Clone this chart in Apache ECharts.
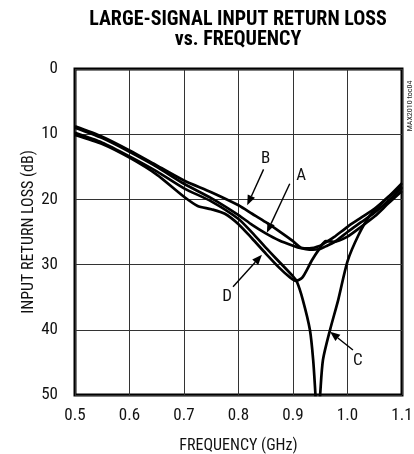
<!DOCTYPE html>
<html>
<head>
<meta charset="utf-8">
<script src="https://cdn.jsdelivr.net/npm/echarts@6/dist/echarts.min.js"></script>
<style>html,body{margin:0;padding:0;background:#fff}#c{width:414px;height:454px}</style>
</head>
<body>
<div id="c"></div>
<script>
// ---- data ----
var xTicks = [0.5, 0.6, 0.7, 0.8, 0.9, 1.0, 1.1];
var yTicks = [0, 10, 20, 30, 40, 50];
var curveA = [[0.5,9.0],[0.55,10.6],[0.6,12.7],[0.65,15.0],[0.7,17.6],[0.75,19.8],[0.8,22.4],[0.825,23.9],[0.85,25.2],[0.875,26.3],[0.9,27.1],[0.915,27.5],[0.93,27.7],[0.95,27.6],[0.96,27.2],[0.975,26.6],[1.0,25.0],[1.025,23.5],[1.05,22.0],[1.075,20.2],[1.1,18.2]];
var curveB = [[0.5,8.8],[0.55,10.4],[0.6,12.5],[0.65,14.8],[0.7,17.1],[0.75,18.9],[0.8,20.9],[0.825,22.2],[0.85,23.5],[0.875,24.9],[0.9,26.4],[0.915,27.4],[0.93,27.5],[0.95,27.1],[0.96,26.6],[0.975,25.8],[1.0,24.2],[1.025,22.8],[1.05,21.4],[1.075,19.6],[1.1,17.5]];
var curveC = [[0.5,9.8],[0.55,11.3],[0.6,13.4],[0.65,15.7],[0.7,18.3],[0.75,20.3],[0.8,23.0],[0.825,25.1],[0.85,27.4],[0.875,29.6],[0.9,31.8],[0.907,32.6],[0.918,35.4],[0.931,40],[0.937,44.6],[0.941,49.7],[0.945,56],[0.95,49.7],[0.955,44.6],[0.968,40],[0.983,35.4],[1.0,29.5],[1.02,25.5],[1.04,22.6],[1.07,20.0],[1.1,18.0]];
var curveD = [[0.5,10.1],[0.55,11.5],[0.6,13.6],[0.65,16.2],[0.7,19.6],[0.725,21.0],[0.75,21.5],[0.775,22.2],[0.8,23.8],[0.825,26.0],[0.85,28.3],[0.875,30.5],[0.895,32.0],[0.905,32.5],[0.917,32.0],[0.935,29.3],[0.95,27.4],[0.96,26.4],[0.975,26.5],[1.0,25.7],[1.025,24.2],[1.05,22.6],[1.075,20.6],[1.1,18.7]];
var seriesNames = ['A', 'B', 'C', 'D'];
// annotation: [label, labelX, labelY, arrowStartX, arrowStartY, tipX, tipY] in data units
var annotations = [
  ['B', 0.850, 13.8, 0.846, 15.4, 0.816, 20.9],
  ['A', 0.915, 16.4, 0.894, 17.6, 0.852, 25.1],
  ['D', 0.779, 35.0, 0.790, 33.4, 0.843, 28.5],
  ['C', 1.019, 44.8, 1.010, 43.1, 0.968, 40.3]
];

var FONT = 'Roboto, sans-serif';
var chart = echarts.init(document.getElementById('c'), null, {renderer: 'canvas'});
var curves = [curveA, curveB, curveC, curveD];
var series = curves.map(function (d, i) {
  return {
    name: seriesNames[i], type: 'line', data: d, showSymbol: false, symbol: 'none',
    smooth: 0.25, clip: true, animation: false,
    lineStyle: {color: '#000', width: 2.7}
  };
});
chart.setOption({
  animation: false,
  grid: {left: 75, right: 12, top: 69, bottom: 59, outerBoundsMode: 'none', containLabel: false,
    show: true, borderColor: '#000', borderWidth: 3, backgroundColor: 'transparent'},
  xAxis: {
    type: 'value', min: 0.5, max: 1.1, interval: 0.1,
    name: 'FREQUENCY (GHz)', nameLocation: 'middle', nameGap: 43, nameMoveOverlap: false,
    nameTextStyle: {fontFamily: FONT, fontWeight: 'condensed', fontSize: 16, color: '#111'},
    axisLine: {show: false}, axisTick: {show: false},
    axisLabel: {fontFamily: FONT, fontWeight: 'condensed', fontSize: 17, color: '#111', margin: 12,
      formatter: function (v) { return (+v).toFixed(1); }},
    splitLine: {show: true, lineStyle: {color: '#333', width: 1}}
  },
  yAxis: {
    type: 'value', min: 0, max: 50, interval: 10, inverse: true,
    name: 'INPUT RETURN LOSS (dB)', nameLocation: 'middle', nameGap: 38, nameRotate: 90, nameMoveOverlap: false,
    nameTextStyle: {fontFamily: FONT, fontWeight: 'condensed', fontSize: 16, color: '#111'},
    axisLine: {show: false}, axisTick: {show: false},
    axisLabel: {fontFamily: FONT, fontWeight: 'condensed', fontSize: 17, color: '#111', margin: 17,
      formatter: function (v) { return String(v); }},
    splitLine: {show: true, lineStyle: {color: '#333', width: 1}}
  },
  series: series
});

function px(x, y) { return chart.convertToPixel({gridIndex: 0}, [x, y]); }
var g = [
  {type: 'text', x: 238, y: 20, style: {text: 'LARGE-SIGNAL INPUT RETURN LOSS', fontFamily: FONT, fontWeight: 'condensed bold', fontSize: 20, fill: '#000', align: 'center', verticalAlign: 'middle'}},
  {type: 'text', x: 238, y: 40, style: {text: 'vs. FREQUENCY', fontFamily: FONT, fontWeight: 'condensed bold', fontSize: 20, fill: '#000', align: 'center', verticalAlign: 'middle'}},
  {type: 'text', x: 410, y: 106, rotation: Math.PI / 2, style: {text: 'MAX2010 toc04', fontFamily: FONT, fontWeight: 'condensed', fontSize: 8, fill: '#222', align: 'center', verticalAlign: 'middle'}}
];
annotations.forEach(function (a) {
  var lp = px(a[1], a[2]), s = px(a[3], a[4]), t = px(a[5], a[6]);
  g.push({type: 'text', x: lp[0], y: lp[1], style: {text: a[0], fontFamily: FONT, fontWeight: 'condensed', fontSize: 17, fill: '#111', align: 'center', verticalAlign: 'middle'}});
  var dx = t[0] - s[0], dy = t[1] - s[1], L = Math.sqrt(dx * dx + dy * dy);
  var ux = dx / L, uy = dy / L, hl = 10, hw = 4;
  var bx = t[0] - ux * hl, by = t[1] - uy * hl;
  g.push({type: 'line', shape: {x1: s[0], y1: s[1], x2: bx, y2: by}, style: {stroke: '#000', lineWidth: 1.4}});
  g.push({type: 'polygon', shape: {points: [[t[0], t[1]], [bx - uy * hw, by + ux * hw], [bx + uy * hw, by - ux * hw]]}, style: {fill: '#000'}});
});
chart.setOption({graphic: g});
</script>
</body>
</html>
